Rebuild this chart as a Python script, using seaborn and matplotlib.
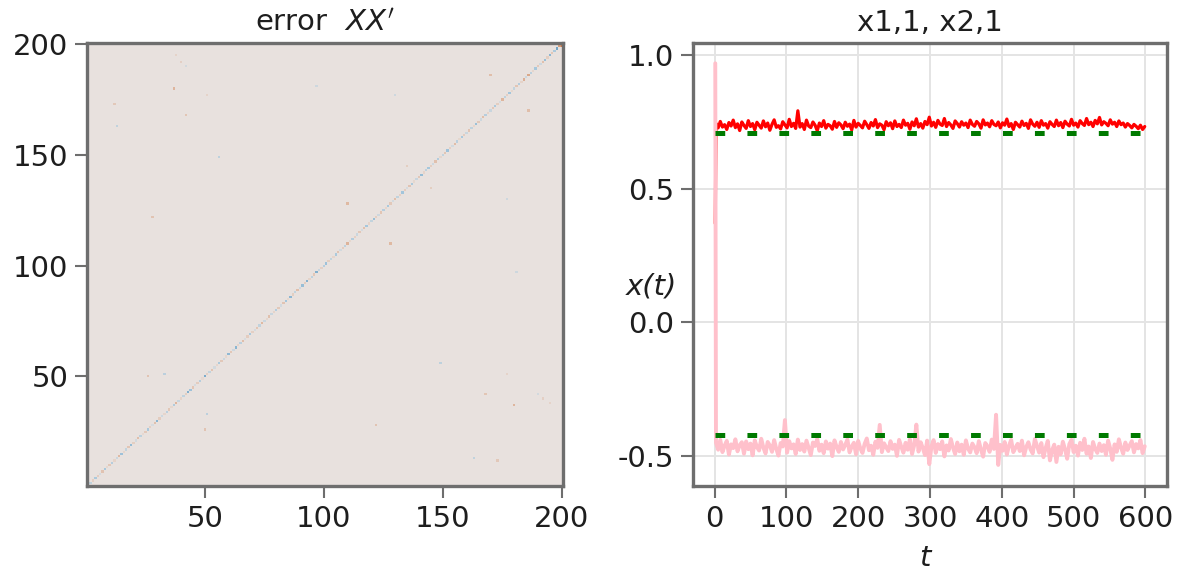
import numpy as np
import pandas as pd
import matplotlib
matplotlib.use("Agg")
import matplotlib.pyplot as plt
from matplotlib.colors import LinearSegmentedColormap
import seaborn as sns

# ---------------- data ----------------
N = 200
# diagonal of the XX' error matrix (index 1..200)
diag_err = [
    0.25, -0.12, 0.08, -0.18, 0.10, -0.06, 0.14, -0.20, 0.05, 0.12, -0.15, 0.07, -0.09, 0.18, -0.22, 0.06, -0.11, 0.13, -0.25, 0.09,
    -0.07, 0.16, -0.13, 0.04, 0.11, -0.19, 0.08, -0.05, 0.15, -0.28, 0.10, -0.08, 0.06, -0.14, 0.12, 0.05, -0.17, 0.20, -0.10, 0.07,
    -0.12, 0.09, -0.30, -0.22, 0.13, -0.06, 0.10, -0.15, 0.04, -0.32, 0.08, -0.11, 0.14, -0.07, 0.06, -0.18, 0.11, -0.09, 0.05, -0.26,
    0.12, -0.08, -0.28, 0.07, -0.14, 0.16, -0.05, 0.10, -0.19, 0.08, -0.06, 0.13, -0.12, 0.18, -0.09, 0.06, 0.15, -0.10, 0.07, -0.16,
    0.11, -0.07, 0.14, -0.21, 0.05, -0.27, 0.09, -0.12, 0.16, -0.08, -0.24, 0.10, -0.29, 0.07, -0.13, 0.12, -0.30, -0.10, 0.08, -0.15,
    -0.22, 0.09, -0.11, 0.06, -0.18, 0.14, -0.07, 0.10, -0.13, 0.21, 0.05, -0.16, 0.08, -0.09, 0.12, -0.06, 0.15, -0.20, 0.07, -0.11,
    -0.24, 0.09, -0.08, 0.13, -0.15, 0.06, -0.19, 0.11, -0.07, 0.16, -0.12, 0.08, -0.21, 0.10, -0.06, 0.14, -0.18, 0.05, -0.10, 0.12,
    -0.25, 0.07, -0.13, -0.20, 0.09, -0.08, 0.15, -0.16, 0.06, -0.11, 0.13, -0.22, 0.08, -0.07, 0.17, -0.14, 0.05, -0.19, 0.10, -0.09,
    0.14, -0.12, 0.06, -0.23, 0.11, -0.08, 0.16, -0.15, 0.07, -0.10, 0.12, -0.18, 0.09, -0.06, 0.20, -0.13, 0.08, -0.21, 0.05, -0.11,
    0.13, -0.16, 0.07, 0.22, -0.09, 0.25, -0.14, 0.06, -0.20, 0.11, -0.08, 0.15, -0.24, 0.09, -0.28, 0.12, -0.18, -0.35, 0.30, -1.00,
]
# off-diagonal entries (row, col, value), 1-based, mirrored (symmetric matrix)
off_rows = [37, 110, 28, 26, 33, 170, 42, 12, 135, 13, 56, 130, 97, 40, 42, 38, 51, 199]
off_cols = [180, 128, 122, 50, 51, 186, 168, 173, 145, 163, 149, 177, 181, 192, 190, 195, 177, 200]
off_vals = [0.20, 0.18, 0.14, 0.14, -0.14, 0.16, 0.13, 0.11, 0.09, -0.12, -0.13, -0.08, -0.08, 0.08, -0.07, 0.07, 0.07, 0.45]

# time series x1,1 (red) and x2,1 (pink); first point at t = 1, then every 3 steps
t_first = [1]
t_rest = list(range(2, 600, 3))
t_vals = t_first + t_rest
x11 = [0.37] + [
    0.745, 0.728, 0.752, 0.731, 0.740, 0.722, 0.748, 0.735, 0.757, 0.729, 0.743, 0.718, 0.750, 0.737, 0.726, 0.755, 0.733, 0.744, 0.721, 0.749,
    0.738, 0.727, 0.754, 0.732, 0.746, 0.719, 0.741, 0.758, 0.730, 0.736, 0.724, 0.751, 0.739, 0.728, 0.760, 0.733, 0.745, 0.726, 0.792, 0.731,
    0.744, 0.722, 0.757, 0.735, 0.729, 0.750, 0.738, 0.717, 0.746, 0.733, 0.755, 0.727, 0.741, 0.736, 0.723, 0.752, 0.730, 0.747, 0.739, 0.725,
    0.749, 0.734, 0.742, 0.720, 0.756, 0.731, 0.745, 0.737, 0.728, 0.753, 0.740, 0.726, 0.748, 0.735, 0.759, 0.729, 0.743, 0.738, 0.721, 0.751,
    0.736, 0.747, 0.725, 0.754, 0.733, 0.741, 0.729, 0.757, 0.738, 0.745, 0.723, 0.750, 0.736, 0.762, 0.731, 0.744, 0.727, 0.752, 0.740, 0.768,
    0.735, 0.749, 0.730, 0.756, 0.742, 0.737, 0.763, 0.733, 0.748, 0.739, 0.726, 0.754, 0.744, 0.731, 0.751, 0.738, 0.746, 0.729, 0.757, 0.741,
    0.734, 0.752, 0.743, 0.727, 0.758, 0.739, 0.746, 0.732, 0.755, 0.741, 0.736, 0.750, 0.728, 0.747, 0.738, 0.761, 0.733, 0.744, 0.722, 0.749,
    0.740, 0.731, 0.753, 0.737, 0.745, 0.726, 0.758, 0.742, 0.734, 0.749, 0.730, 0.755, 0.738, 0.744, 0.727, 0.751, 0.741, 0.733, 0.757, 0.736,
    0.748, 0.729, 0.753, 0.742, 0.735, 0.760, 0.738, 0.746, 0.731, 0.755, 0.744, 0.737, 0.763, 0.740, 0.749, 0.733, 0.756, 0.743, 0.767, 0.739,
    0.751, 0.745, 0.736, 0.758, 0.742, 0.749, 0.733, 0.754, 0.740, 0.746, 0.731, 0.744, 0.737, 0.728, 0.741, 0.734, 0.725, 0.738, 0.722, 0.733,
]
x21 = [0.97] + [
    -0.452, -0.478, -0.441, -0.487, -0.463, -0.445, -0.496, -0.458, -0.472, -0.439, -0.484, -0.461, -0.450, -0.493, -0.447, -0.476, -0.455, -0.499, -0.443, -0.468,
    -0.481, -0.437, -0.470, -0.492, -0.449, -0.462, -0.486, -0.442, -0.475, -0.500, -0.453, -0.466, -0.367, -0.489, -0.446, -0.473, -0.458, -0.494, -0.440, -0.479,
    -0.457, -0.485, -0.444, -0.471, -0.498, -0.451, -0.464, -0.438, -0.482, -0.459, -0.491, -0.447, -0.474, -0.455, -0.502, -0.443, -0.468, -0.486, -0.449, -0.477,
    -0.460, -0.440, -0.488, -0.466, -0.452, -0.495, -0.445, -0.473, -0.490, -0.456, -0.436, -0.480, -0.463, -0.497, -0.448, -0.471, -0.385, -0.487, -0.454, -0.469,
    -0.483, -0.446, -0.475, -0.459, -0.501, -0.441, -0.467, -0.489, -0.452, -0.478, -0.439, -0.494, -0.461, -0.384, -0.485, -0.450, -0.472, -0.498, -0.444, -0.532,
    -0.466, -0.442, -0.490, -0.457, -0.476, -0.447, -0.503, -0.462, -0.481, -0.438, -0.470, -0.494, -0.451, -0.484, -0.459, -0.497, -0.443, -0.474, -0.488, -0.455,
    -0.469, -0.491, -0.446, -0.478, -0.504, -0.453, -0.465, -0.486, -0.440, -0.475, -0.347, -0.535, -0.460, -0.482, -0.449, -0.496, -0.463, -0.441, -0.487, -0.471,
    -0.456, -0.483, -0.444, -0.499, -0.468, -0.450, -0.477, -0.492, -0.438, -0.464, -0.489, -0.453, -0.506, -0.472, -0.445, -0.518, -0.480, -0.459, -0.524, -0.467,
    -0.495, -0.448, -0.476, -0.512, -0.457, -0.441, -0.487, -0.463, -0.500, -0.452, -0.479, -0.437, -0.493, -0.466, -0.509, -0.449, -0.475, -0.490, -0.455, -0.483,
    -0.461, -0.497, -0.444, -0.474, -0.516, -0.458, -0.486, -0.439, -0.470, -0.493, -0.451, -0.479, -0.462, -0.446, -0.488, -0.457, -0.473, -0.442, -0.491, -0.465,
]
# reference (true) values, drawn dashed green
t_ref = [0, 600]
x11_true = 0.708
x21_true = -0.422

hm_ticks = [50, 100, 150, 200]
t_ticks = [0, 100, 200, 300, 400, 500, 600]
y_ticks = [-0.5, 0.0, 0.5, 1.0]

# ---------------- style ----------------
sns.set_theme(style="white")
plt.rcParams["font.family"] = ["DejaVu Sans"]
plt.rcParams["mathtext.fontset"] = "dejavusans"
plt.rcParams["lines.scale_dashes"] = False

spine_col = "#6e6e6e"
txt_col = "#1e1e1e"
fs = 21

vik = LinearSegmentedColormap.from_list("vik_like", [
    (0.00, "#001261"), (0.10, "#03407f"), (0.20, "#1d6aa0"), (0.30, "#5f98bf"),
    (0.40, "#a6c7dc"), (0.50, "#e8e2df"), (0.60, "#deb59d"), (0.70, "#cd8456"),
    (0.80, "#b75826"), (0.90, "#8a2b0c"), (1.00, "#590008"),
])

fig = plt.figure(figsize=(11.9, 5.74), dpi=100)
W, H = 1190, 574
ax1 = fig.add_axes([87 / W, 1 - 486 / H, 476 / W, 443 / H])
ax2 = fig.add_axes([693 / W, 1 - 486 / H, 474 / W, 443 / H])

# ---------------- heatmap ----------------
M = np.zeros((N, N))
for k, v in enumerate(diag_err):
    M[k, k] = v
for r, c, v in zip(off_rows, off_cols, off_vals):
    M[r - 1, c - 1] = v
    M[c - 1, r - 1] = v
sns.heatmap(M, ax=ax1, cmap=vik, vmin=-1, vmax=1, cbar=False,
            xticklabels=False, yticklabels=False, linewidths=0)
ax1.set_xlim(0, N)
ax1.set_ylim(0, N)
ax1.set_xticks([v - 0.5 for v in hm_ticks])
ax1.set_xticklabels([str(v) for v in hm_ticks], rotation=0)
ax1.set_yticks([v - 0.5 for v in hm_ticks])
ax1.set_yticklabels([str(v) for v in hm_ticks], rotation=0)
ax1.set_xlabel("")
ax1.set_ylabel("")
ax1.set_title("error  $XX'$", fontsize=fs, color=txt_col, pad=9)

# ---------------- time series ----------------
df = pd.DataFrame({"t": t_vals, "x11": x11, "x21": x21})
sns.lineplot(data=df, x="t", y="x11", ax=ax2, color="#ff0000", linewidth=2.3,
             estimator=None, sort=False)
sns.lineplot(data=df, x="t", y="x21", ax=ax2, color="#ffc0cb", linewidth=2.8,
             estimator=None, sort=False)
for val in (x11_true, x21_true):
    sns.lineplot(x=t_ref, y=[val, val], ax=ax2, color="#007a00", linewidth=3.6,
                 linestyle=(0, (7, 16)), dash_capstyle="butt")
ax2.set_xlim(-30, 630)
ax2.set_ylim(-0.614, 1.046)
ax2.set_xticks(t_ticks)
ax2.set_xticklabels([str(v) for v in t_ticks])
ax2.set_yticks(y_ticks)
ax2.set_yticklabels(["-0.5", "0.0", "0.5", "1.0"])
ax2.grid(True, color="#e4e4e4", linewidth=1.4)
ax2.set_axisbelow(True)
ax2.set_xlabel("")
ax2.set_ylabel("")
ax2.set_title("x1,1, x2,1", fontsize=fs, color=txt_col, pad=9)
fig.text(651 / W, 1 - 286 / H, "x(t)", fontsize=fs, style="italic",
         color=txt_col, ha="center", va="center")
fig.text(925 / W, 1 - 558 / H, "t", fontsize=fs, style="italic",
         color=txt_col, ha="center", va="center")

for ax in (ax1, ax2):
    for s in ax.spines.values():
        s.set_visible(True)
        s.set_color(spine_col)
        s.set_linewidth(2.4)
    ax.tick_params(axis="both", which="major", direction="out", length=8.5,
                   width=1.5, color=spine_col, labelsize=fs, labelcolor=txt_col,
                   pad=5, bottom=True, left=True, top=False, right=False)

fig.savefig("out.png", dpi=100)
